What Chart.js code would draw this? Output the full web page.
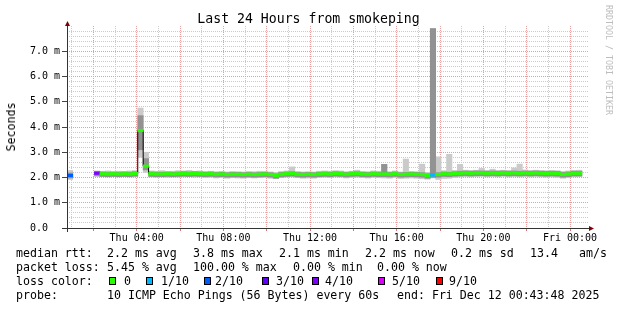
<!DOCTYPE html>
<html>
<head>
<meta charset="utf-8">
<script src="https://cdn.jsdelivr.net/npm/chart.js@4.4.1/dist/chart.umd.min.js"></script>
<style>
  html, body { margin: 0; padding: 0; background: #fff; }
  #wrap { position: relative; width: 617px; height: 310px; font-family: "DejaVu Sans Mono", monospace; color: #000; overflow: hidden; }
  #wrap canvas { position: absolute; left: 0; top: 0; }
  .t { position: absolute; white-space: pre; font-size: 11.6px; line-height: 14px; }
  .box { position: absolute; width: 5px; height: 6px; border: 1px solid #000; top: 277px; }
  #title { position: absolute; left: 0; top: 11px; width: 617px; text-align: center; font-size: 13.2px; line-height: 16px; }
  #ylab { position: absolute; left: 11px; top: 127px; font-size: 11.6px; line-height: 14px; transform: translate(-50%, -50%) rotate(-90deg); white-space: pre; }
  #mark { position: absolute; left: 604px; top: 5px; writing-mode: vertical-rl; font-size: 8.3px; line-height: 9px; color: #bdbdbd; white-space: pre; }
</style>
</head>
<body>
<div id="wrap">
  <canvas id="rtt" width="617" height="310"></canvas>
  <div id="title">Last 24 Hours from smokeping</div>
  <div id="ylab">Seconds</div>
  <div id="mark">RRDTOOL / TOBI OETIKER</div>
  <div id="legend"></div>
</div>

<script>
// ================= DATA =================
// 15 minute bins, first bin starts Thu 00:48 (hours since Thu 00:00)
const binStartHour = 0.8;
const binHours = 0.25;

// median rtt per bin (ms), null = no data
const medianRtt = [
  2.08, null, null, null, null, 2.17, 2.15, 2.14, 2.15, 2.14, 2.15, 2.14,
  2.16, 3.86, 2.45, 2.15, 2.14, 2.14, 2.15, 2.14, 2.15, 2.16, 2.15, 2.16,
  2.15, 2.14, 2.15, 2.13, 2.14, 2.12, 2.13, 2.13, 2.12, 2.13, 2.12, 2.13,
  2.14, 2.12, 2.08, 2.13, 2.15, 2.16, 2.13, 2.12, 2.13, 2.12, 2.14, 2.15,
  2.14, 2.16, 2.15, 2.13, 2.15, 2.16, 2.14, 2.13, 2.15, 2.14, 2.14, 2.13,
  2.15, 2.12, 2.13, 2.14, 2.13, 2.12, 2.08, 2.10, 2.12, 2.15, 2.14, 2.16,
  2.17, 2.18, 2.17, 2.18, 2.18, 2.17, 2.18, 2.17, 2.18, 2.17, 2.18, 2.17,
  2.18, 2.17, 2.18, 2.17, 2.16, 2.17, 2.16, 2.12, 2.14, 2.17, 2.17, null
];

// packet loss per bin, in tenths (10 pings)
const lossTenths = [
  2, null, null, null, null, 4, 0, 0, 0, 0, 0, 0,
  0, 0, 0, 0, 0, 0, 0, 0, 0, 0, 0, 0,
  0, 0, 0, 0, 0, 0, 0, 0, 0, 0, 0, 0,
  0, 0, 0, 0, 0, 0, 0, 0, 0, 0, 0, 0,
  0, 0, 0, 0, 0, 0, 0, 0, 0, 0, 0, 0,
  0, 0, 0, 0, 0, 0, 0, 1, 0, 0, 0, 0,
  0, 0, 0, 0, 0, 0, 0, 0, 0, 0, 0, 0,
  0, 0, 0, 0, 0, 0, 0, 0, 0, 0, 0, null
];

// smoke: full ping spread (light) and inner spread (dark)
const smokeLo = [
  1.92, null, null, null, null, 2.05, 2.03, 2.02, 2.03, 2.02, 2.03, 2.02,
  2.03, 2.80, 2.20, 2.02, 2.01, 2.02, 2.00, 2.02, 2.01, 2.02, 2.03, 2.01,
  2.02, 2.00, 2.01, 1.98, 2.00, 1.97, 1.99, 1.98, 1.97, 1.99, 1.98, 1.99,
  2.00, 1.97, 1.95, 1.99, 2.01, 2.02, 1.99, 1.97, 1.98, 1.97, 2.00, 2.01,
  2.00, 2.02, 2.01, 1.98, 2.00, 2.01, 1.99, 1.98, 2.00, 1.99, 1.98, 1.97,
  2.00, 1.96, 1.97, 1.98, 1.97, 1.95, 1.93, 1.98, 1.92, 1.96, 1.97, 2.00,
  2.02, 2.03, 2.02, 2.03, 2.04, 2.02, 2.03, 2.02, 2.04, 2.02, 2.03, 2.02,
  2.03, 2.02, 2.03, 2.02, 2.01, 2.02, 2.00, 1.97, 1.99, 2.02, 2.03, null
];
const smokeHi = [
  2.28, null, null, null, null, 2.26, 2.24, 2.26, 2.23, 2.25, 2.24, 2.26,
  2.27, 4.75, 3.00, 2.26, 2.25, 2.27, 2.24, 2.25, 2.27, 2.26, 2.28, 2.25,
  2.26, 2.24, 2.25, 2.23, 2.24, 2.22, 2.24, 2.23, 2.22, 2.24, 2.23, 2.25,
  2.24, 2.22, 2.20, 2.24, 2.26, 2.42, 2.24, 2.22, 2.23, 2.22, 2.25, 2.26,
  2.25, 2.27, 2.26, 2.23, 2.25, 2.29, 2.24, 2.23, 2.26, 2.25, 2.52, 2.23,
  2.26, 2.22, 2.73, 2.24, 2.23, 2.53, 2.20, 7.90, 2.82, 2.27, 2.92, 2.28,
  2.52, 2.29, 2.28, 2.29, 2.36, 2.28, 2.33, 2.28, 2.29, 2.28, 2.38, 2.53,
  2.30, 2.28, 2.29, 2.28, 2.27, 2.28, 2.27, 2.24, 2.26, 2.28, 2.29, null
];
const smokeCoreLo = [
  1.98, null, null, null, null, 2.06, 2.04, 2.03, 2.04, 2.03, 2.04, 2.03,
  2.05, 3.10, 2.30, 2.04, 2.03, 2.03, 2.04, 2.03, 2.04, 2.05, 2.04, 2.05,
  2.04, 2.03, 2.04, 2.02, 2.03, 2.01, 2.02, 2.02, 2.01, 2.02, 2.01, 2.02,
  2.03, 2.01, 1.97, 2.02, 2.04, 2.05, 2.02, 2.01, 2.02, 2.01, 2.03, 2.04,
  2.03, 2.05, 2.04, 2.02, 2.04, 2.05, 2.03, 2.02, 2.04, 2.03, 2.03, 2.02,
  2.04, 2.01, 2.02, 2.03, 2.02, 2.01, 1.97, 2.00, 2.01, 2.04, 2.03, 2.05,
  2.06, 2.07, 2.06, 2.07, 2.07, 2.06, 2.07, 2.06, 2.07, 2.06, 2.07, 2.06,
  2.07, 2.06, 2.07, 2.06, 2.05, 2.06, 2.05, 2.01, 2.03, 2.06, 2.06, null
];
const smokeCoreHi = [
  2.18, null, null, null, null, 2.24, 2.22, 2.21, 2.22, 2.21, 2.22, 2.21,
  2.23, 4.45, 2.75, 2.22, 2.21, 2.21, 2.22, 2.21, 2.22, 2.23, 2.22, 2.23,
  2.22, 2.21, 2.22, 2.20, 2.21, 2.19, 2.20, 2.20, 2.19, 2.20, 2.19, 2.20,
  2.21, 2.19, 2.15, 2.20, 2.22, 2.23, 2.20, 2.19, 2.20, 2.19, 2.21, 2.22,
  2.21, 2.23, 2.22, 2.20, 2.22, 2.23, 2.21, 2.20, 2.22, 2.21, 2.52, 2.20,
  2.22, 2.19, 2.20, 2.21, 2.20, 2.19, 2.15, 7.90, 2.19, 2.22, 2.21, 2.23,
  2.25, 2.26, 2.25, 2.26, 2.26, 2.25, 2.26, 2.25, 2.26, 2.25, 2.26, 2.25,
  2.26, 2.25, 2.26, 2.25, 2.24, 2.25, 2.24, 2.20, 2.22, 2.25, 2.25, null
];

// axis ticks
const hourTicks = [1, 2, 3, 4, 5, 6, 7, 8, 9, 10, 11, 12, 13, 14, 15, 16, 17, 18, 19, 20, 21, 22, 23, 24];
const hourLabels = { 4: "Thu 04:00", 8: "Thu 08:00", 12: "Thu 12:00", 16: "Thu 16:00", 20: "Thu 20:00", 24: "Fri 00:00" };
const msTickLabels = ["0.0  ", "1.0 m", "2.0 m", "3.0 m", "4.0 m", "5.0 m", "6.0 m", "7.0 m"];

// legend
const lossColors = { 0: "#26ff00", 1: "#00b8ff", 2: "#0059ff", 3: "#5e00ff", 4: "#7e00ff", 5: "#dd00ff", 9: "#ff0000" };
const lossLegend = ["0", "1/10", "2/10", "3/10", "4/10", "5/10", "9/10"];
const lossLegendKeys = [0, 1, 2, 3, 4, 5, 9];

const MAJOR_GRID = "#eb9c9c";
const MINOR_GRID = "#cacaca";

// ================= BUILD SERIES =================
const binCenters = medianRtt.map((_, i) => binStartHour + (i + 0.5) * binHours);

function rangePoints(lo, hi) {
    return binCenters
        .map((x, i) => lo[i] == null ? null : { x: x, y: [lo[i], hi[i]] })
        .filter(p => p);
}

// median drawn as a 3px band in the loss colour
const medianPoints = binCenters
    .map((x, i) => medianRtt[i] == null ? null : { x: x, y: [medianRtt[i] - 0.05, medianRtt[i] + 0.05], loss: lossTenths[i] })
    .filter(p => p);

const stepLine = binCenters.map((x, i) => ({ x: x, y: medianRtt[i] }));

// ================= AXES / ARROWS =================
const rrdAxes = {
    id: "rrdAxes",
    afterDraw(chart) {
        const { ctx, chartArea: a } = chart;
        ctx.save();
        ctx.strokeStyle = "#333";
        ctx.lineWidth = 1;
        ctx.beginPath();
        ctx.moveTo(a.left - 5, a.bottom + 0.5);
        ctx.lineTo(a.right + 2, a.bottom + 0.5);
        ctx.moveTo(a.left + 0.5, a.bottom + 4);
        ctx.lineTo(a.left + 0.5, a.top - 2);
        ctx.stroke();

        ctx.fillStyle = "#7f0000";
        ctx.beginPath();
        ctx.moveTo(a.left - 2, a.top);
        ctx.lineTo(a.left + 3, a.top);
        ctx.lineTo(a.left + 0.5, a.top - 5);
        ctx.closePath();
        ctx.fill();

        ctx.beginPath();
        ctx.moveTo(a.right + 1, a.bottom - 2);
        ctx.lineTo(a.right + 1, a.bottom + 3);
        ctx.lineTo(a.right + 6, a.bottom + 0.5);
        ctx.closePath();
        ctx.fill();
        ctx.restore();
    }
};

// ================= CHART =================
new Chart(document.getElementById("rtt"), {
    data: {
        datasets: [
            {
                type: "bar",
                data: medianPoints,
                backgroundColor: medianPoints.map(p => lossColors[p.loss]),
                grouped: false,
                barPercentage: 1,
                categoryPercentage: 1,
                borderWidth: 0,
                order: 0
            },
            {
                type: "line",
                data: stepLine,
                borderColor: "#000",
                borderWidth: 1,
                stepped: "middle",
                pointRadius: 0,
                spanGaps: false,
                order: 1
            },
            {
                type: "bar",
                data: rangePoints(smokeCoreLo, smokeCoreHi),
                backgroundColor: "#929292",
                grouped: false,
                barPercentage: 1,
                categoryPercentage: 1,
                borderWidth: 0,
                order: 2
            },
            {
                type: "bar",
                data: rangePoints(smokeLo, smokeHi),
                backgroundColor: "#cacaca",
                grouped: false,
                barPercentage: 1,
                categoryPercentage: 1,
                borderWidth: 0,
                order: 3
            }
        ]
    },
    plugins: [rrdAxes],
    options: {
        responsive: false,
        animation: false,
        devicePixelRatio: 1,
        layout: { padding: { top: 26, right: 29, left: 0, bottom: 0 } },
        plugins: { legend: { display: false }, tooltip: { enabled: false }, title: { display: false } },
        scales: {
            x: {
                type: "linear",
                offset: false,
                min: 0.784,
                max: 24.83,
                afterBuildTicks: axis => { axis.ticks = hourTicks.map(h => ({ value: h })); },
                afterFit: axis => { axis.height = 82; },
                ticks: {
                    autoSkip: false,
                    maxRotation: 0,
                    padding: 1,
                    color: "#000",
                    font: { family: "DejaVu Sans Mono", size: 10 },
                    callback: v => hourLabels[v] || ""
                },
                grid: {
                    offset: false,
                    color: ctx => ctx.tick && ctx.tick.value % 2 === 0 ? MAJOR_GRID : MINOR_GRID,
                    tickColor: ctx => ctx.tick && ctx.tick.value % 2 === 0 ? "#e07070" : "rgba(0,0,0,0)",
                    tickLength: 3,
                    lineWidth: 1
                },
                border: { display: false, dash: [1, 1] }
            },
            y: {
                type: "linear",
                min: 0,
                max: 8,
                afterBuildTicks: axis => {
                    const t = [];
                    for (let i = 0; i < 40; i++) t.push({ value: i / 5 });
                    axis.ticks = t;
                },
                afterFit: axis => { axis.width = 67; },
                ticks: {
                    autoSkip: false,
                    padding: 2,
                    color: "#000",
                    font: { family: "DejaVu Sans Mono", size: 10 },
                    callback: (v, i) => i % 5 === 0 ? msTickLabels[i / 5] : ""
                },
                grid: {
                    color: ctx => ctx.index % 5 === 0 ? MAJOR_GRID : MINOR_GRID,
                    tickColor: ctx => ctx.index % 5 === 0 ? "#444" : "rgba(0,0,0,0)",
                    tickLength: 5,
                    lineWidth: 1
                },
                border: { display: false, dash: [1, 1] }
            }
        }
    }
});

// ================= LEGEND TEXT =================
const legend = document.getElementById("legend");
function put(text, x, y) {
    const d = document.createElement("div");
    d.className = "t";
    d.style.left = x + "px";
    d.style.top = y + "px";
    d.textContent = text;
    legend.appendChild(d);
}

put("median rtt:", 16, 246);
put("2.2 ms avg", 107, 246);
put("3.8 ms max", 193, 246);
put("2.1 ms min", 279, 246);
put("2.2 ms now", 365, 246);
put("0.2 ms sd", 451, 246);
put("13.4", 530, 246);
put("am/s", 579, 246);

put("packet loss:", 16, 260);
put("5.45 % avg", 107, 260);
put("100.00 % max", 193, 260);
put("0.00 % min", 293, 260);
put("0.00 % now", 377, 260);

put("loss color:", 16, 274);
const boxX = [109, 146, 204, 262, 312, 378, 436];
const labelX = [124, 161, 215, 276, 325, 392, 449];
lossLegendKeys.forEach((k, i) => {
    const b = document.createElement("div");
    b.className = "box";
    b.style.left = boxX[i] + "px";
    b.style.background = lossColors[k];
    legend.appendChild(b);
    put(lossLegend[i], labelX[i], 274);
});

put("probe:", 16, 288);
put("10 ICMP Echo Pings (56 Bytes) every 60s", 107, 288);
put("end: Fri Dec 12 00:43:48 2025", 397, 288);
</script>
</body>
</html>
